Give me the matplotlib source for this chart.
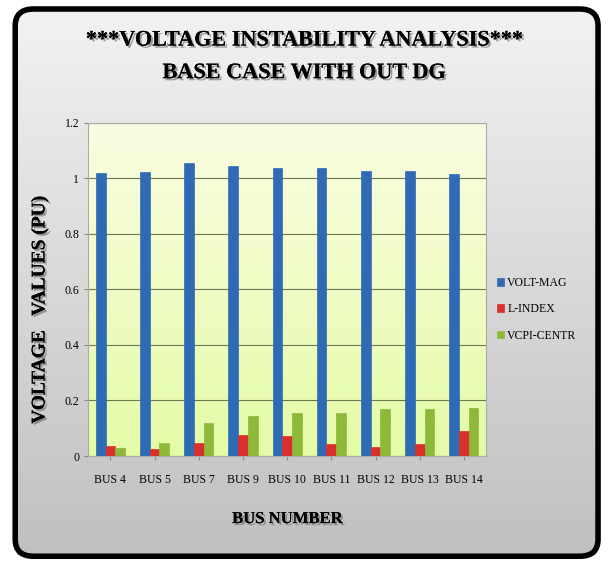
import numpy as np
import matplotlib.pyplot as plt
from matplotlib.patches import FancyBboxPatch
from matplotlib.colors import LinearSegmentedColormap
import matplotlib.patheffects as pe

buses = ['BUS 4', 'BUS 5', 'BUS 7', 'BUS 9', 'BUS 10', 'BUS 11', 'BUS 12', 'BUS 13', 'BUS 14']
volt_mag = [1.018, 1.022, 1.055, 1.046, 1.036, 1.036, 1.025, 1.025, 1.015]
l_index = [0.036, 0.026, 0.048, 0.077, 0.071, 0.042, 0.032, 0.042, 0.089]
vcpi_centr = [0.030, 0.048, 0.119, 0.145, 0.155, 0.155, 0.169, 0.169, 0.173]

series_names = ['VOLT-MAG', 'L-INDEX', 'VCPI-CENTR']
colors = ['#2f6bb5', '#d9302c', '#8db83a']

plt.rcParams['font.family'] = ['Liberation Serif', 'DejaVu Serif']

fig = plt.figure(figsize=(6.09, 5.63), dpi=100)
fig.patch.set_facecolor('white')

# gray gradient panel + rounded black frame
grad = np.linspace(0, 1, 256).reshape(-1, 1)
bg_ax = fig.add_axes([0.028, 0.015, 0.95, 0.965], zorder=-2)
bg_ax.imshow(grad, aspect='auto', cmap=LinearSegmentedColormap.from_list('g', ['#f2f2f2', '#c0c0c0']),
             extent=[0, 1, 0, 1], origin='upper')
bg_ax.axis('off')
frame = FancyBboxPatch((0.025, 0.012), 0.957, 0.972, boxstyle='round,pad=0,rounding_size=0.03',
                       transform=fig.transFigure, fill=False, edgecolor='black', linewidth=4, zorder=5)
fig.patches.append(frame)

ax = fig.add_axes([0.145, 0.19, 0.653, 0.592])
ax.imshow(grad, aspect='auto', cmap=LinearSegmentedColormap.from_list('p', ['#fbfde2', '#e4fba6']),
          extent=[-0.5, len(buses) - 0.5, 0, 1.2], origin='upper', zorder=0)

x = np.arange(len(buses))
w = 0.22
for i, (vals, name, c) in enumerate(zip([volt_mag, l_index, vcpi_centr], series_names, colors)):
    ax.bar(x + (i - 1) * w, vals, w, color=c, label=name, zorder=3, edgecolor=c, linewidth=0.5)

ax.set_xlim(-0.5, len(buses) - 0.5)
ax.set_ylim(0, 1.2)
ax.set_yticks([0, 0.2, 0.4, 0.6, 0.8, 1.0, 1.2])
ax.set_yticklabels(['0', '0.2', '0.4', '0.6', '0.8', '1', '1.2'])
ax.set_xticks(x)
ax.set_xticklabels(buses)
ax.tick_params(axis='both', labelsize=8.5, length=3, color='#888888')
ax.tick_params(axis='x', pad=10)
ax.grid(axis='y', color='#6f7a55', linewidth=0.8, zorder=1)
for s in ax.spines.values():
    s.set_color('#aaaaaa')

shadow = [pe.withSimplePatchShadow(offset=(1.5, -1.5), shadow_rgbFace='#777777', alpha=0.7), pe.Normal()]
ax.set_xlabel('BUS NUMBER', fontsize=12, fontweight='bold', labelpad=18, path_effects=shadow)
ax.set_ylabel('VOLTAGE   VALUES (PU)', fontsize=14, fontweight='bold', path_effects=shadow)
ax.yaxis.set_label_coords(-0.10, 0.44)

fig.text(0.5, 0.928, '***VOLTAGE INSTABILITY ANALYSIS***', ha='center', va='center',
         fontsize=16, fontweight='bold', path_effects=shadow)
fig.text(0.5, 0.870, 'BASE CASE WITH OUT DG', ha='center', va='center',
         fontsize=16, fontweight='bold', path_effects=shadow)

leg = ax.legend(loc='center left', bbox_to_anchor=(1.0, 0.44), frameon=False, fontsize=8.5,
                handlelength=0.6, handleheight=0.6, handletextpad=0.3, labelspacing=1.2)

fig.savefig('out.png', dpi=100)
